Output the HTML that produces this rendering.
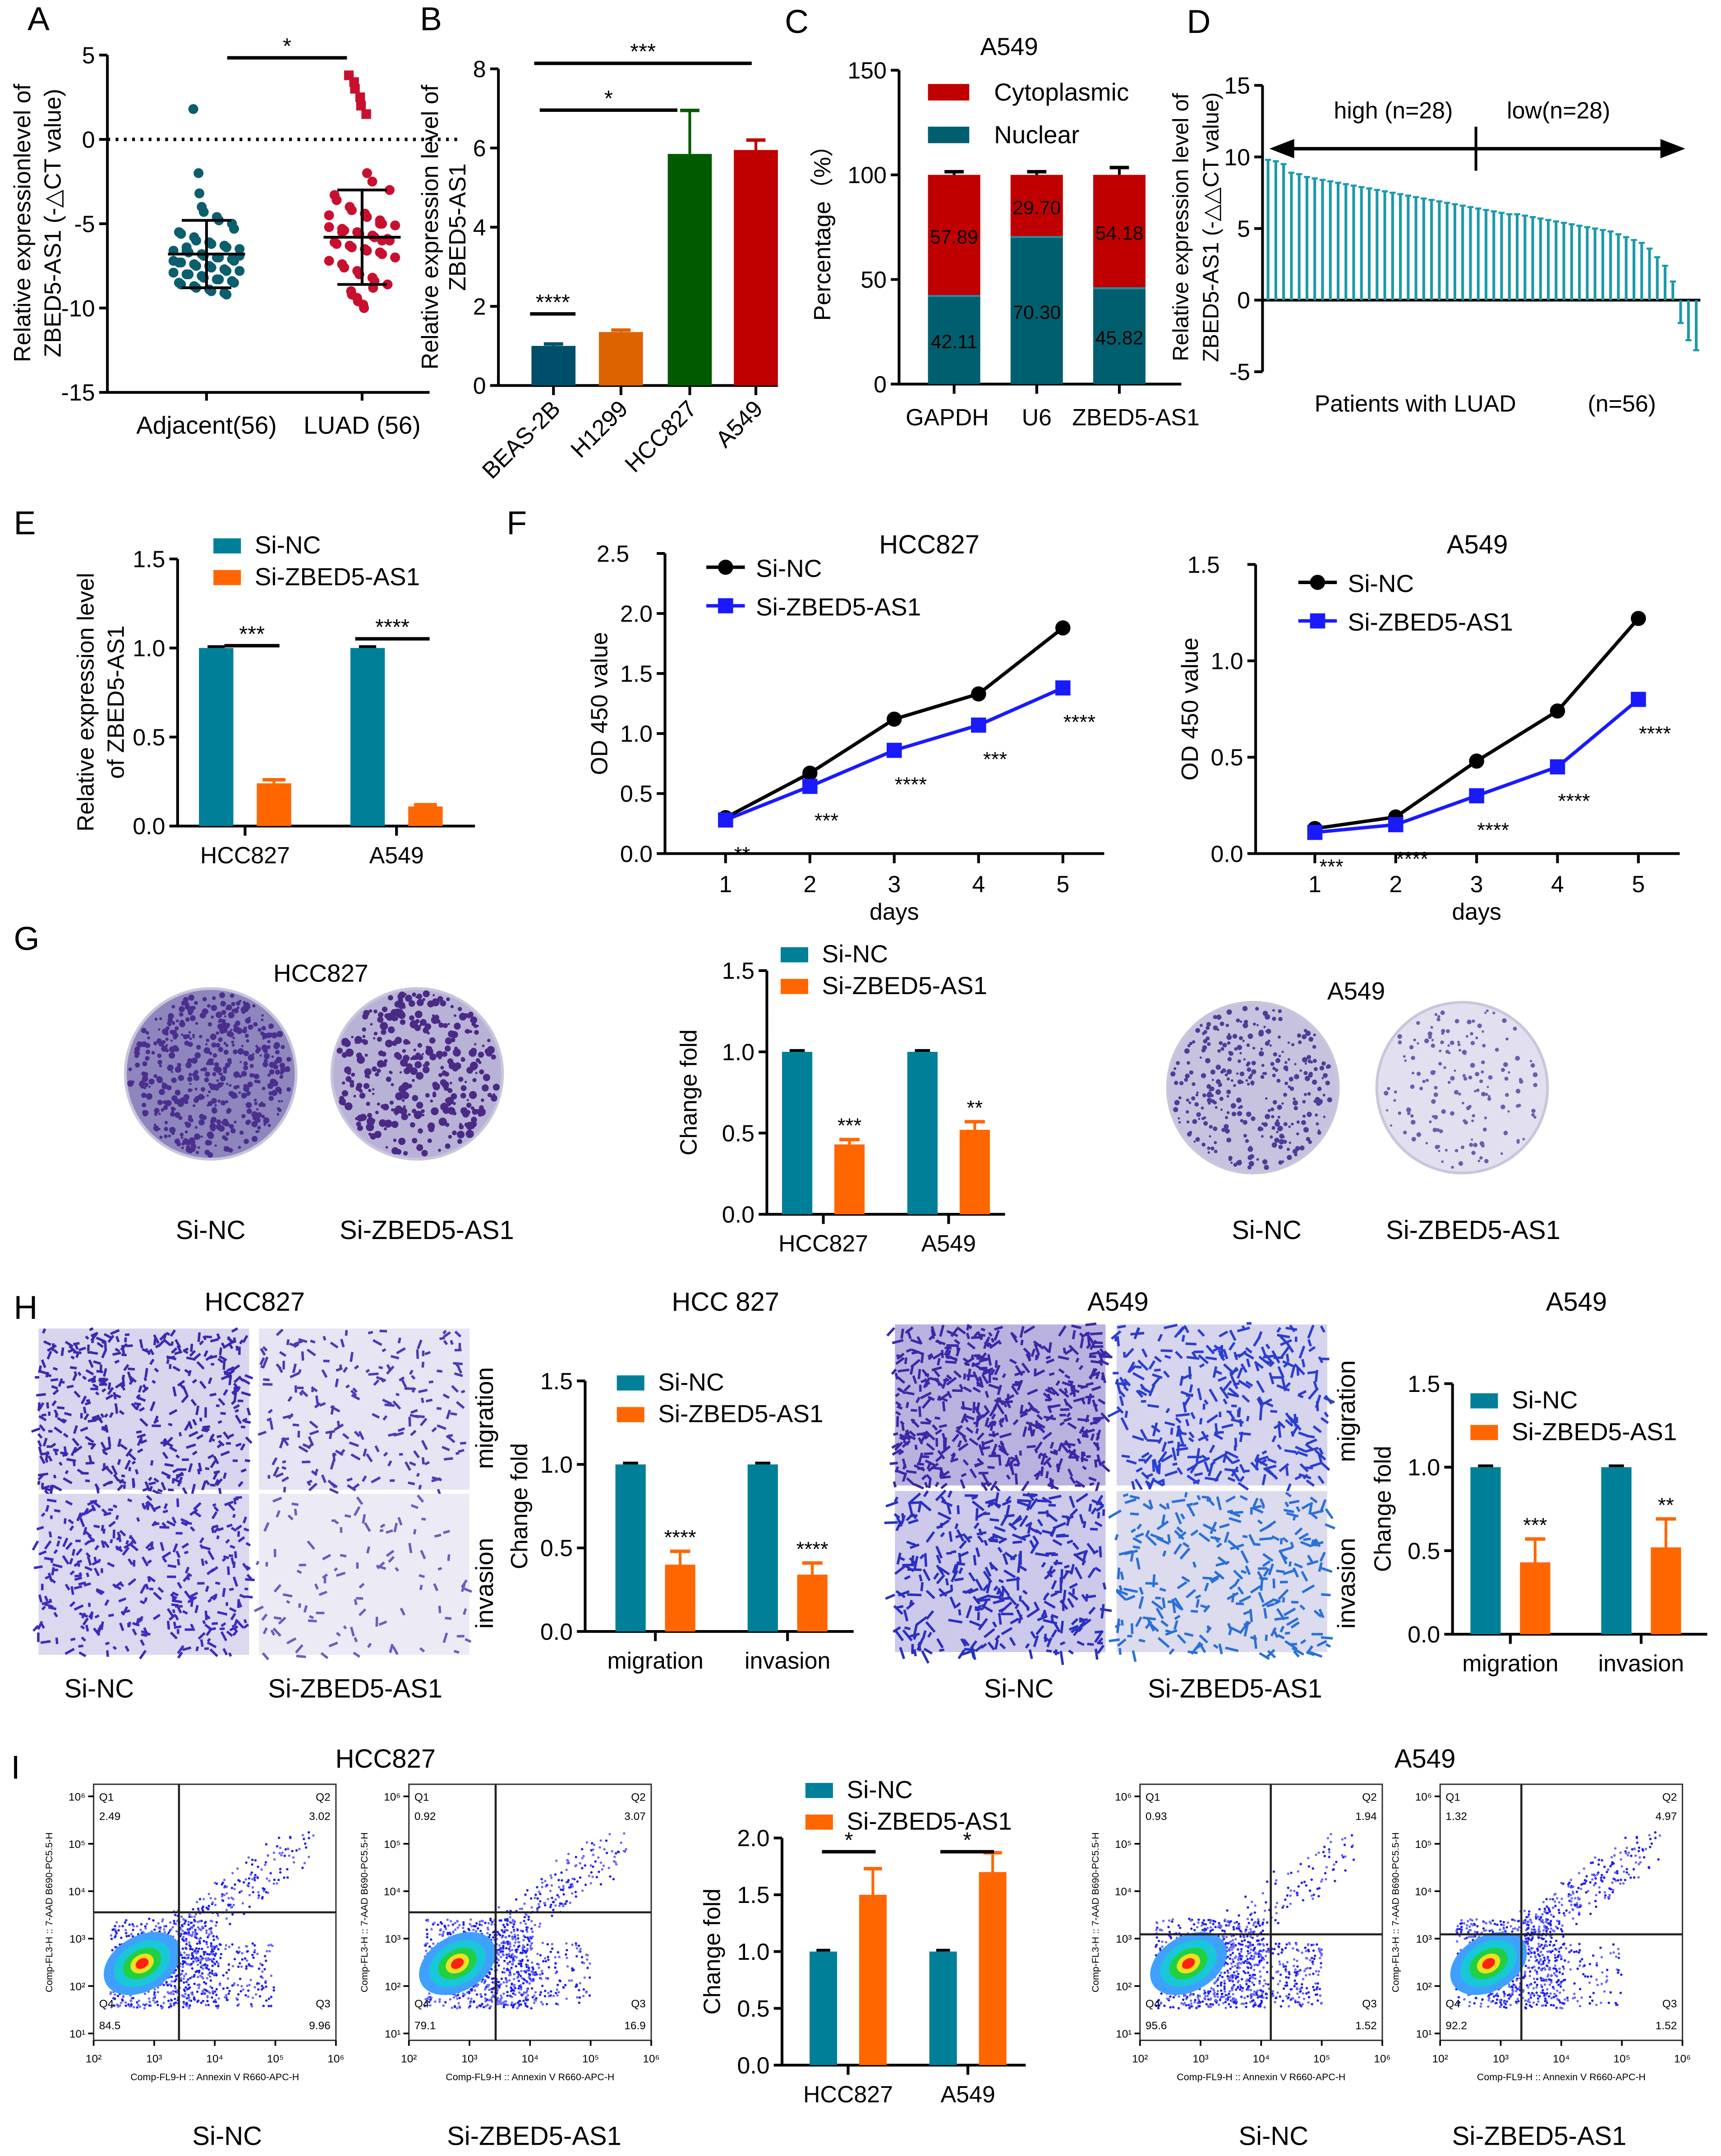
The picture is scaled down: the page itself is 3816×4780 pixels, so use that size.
<!DOCTYPE html>
<html><head><meta charset="utf-8">
<style>
html,body{margin:0;padding:0;background:#fff}
svg{display:block}
text{font-family:"Liberation Sans",Arial,sans-serif;fill:#000}
</style></head>
<body>
<svg id="fig" xmlns="http://www.w3.org/2000/svg" width="3816" height="4780" viewBox="0 0 1250 1566" preserveAspectRatio="none">
<rect width="1250" height="1566" fill="#fff"/>
</svg>
<script>
// ---------- DATA ----------
const aAdjacent=[1.8,-2.0,-3.2,-4.0,-4.3,-4.6,-4.8,-5.0,-5.3,-5.5,-5.6,-5.8,-6.0,-6.1,-6.2,-6.3,-6.4,-6.5,-6.6,-6.6,-6.7,-6.8,-6.9,-7.0,-7.0,-7.1,-7.2,-7.3,-7.3,-7.4,-7.5,-7.5,-7.6,-7.7,-7.8,-7.8,-7.9,-8.0,-8.0,-8.1,-8.2,-8.3,-8.3,-8.4,-8.5,-8.5,-8.6,-8.7,-8.8,-8.9,-9.0,-9.1,-9.2,-6.9,-7.2,-6.4];
const aLUAD=[3.8,3.4,3.0,2.5,2.0,1.5,-2.0,-2.5,-3.0,-3.3,-3.6,-4.0,-4.2,-4.4,-4.6,-4.8,-5.0,-5.1,-5.2,-5.3,-5.4,-5.5,-5.6,-5.7,-5.8,-5.9,-6.0,-6.1,-6.2,-6.3,-6.4,-6.5,-6.6,-6.7,-6.8,-7.0,-7.2,-7.4,-7.6,-7.8,-8.0,-8.2,-8.4,-8.6,-8.8,-9.0,-9.2,-9.4,-9.6,-9.8,-10.0,-5.0,-6.0,-7.0,-4.5,-5.5];
const aMeans=[-6.8,-5.8], aSD=[2.0,2.8];
const bCats=["BEAS-2B","H1299","HCC827","A549"], bVals=[1.0,1.35,5.85,5.95], bErr=[0.05,0.05,1.1,0.25];
const cCats=["GAPDH","U6","ZBED5-AS1"], cNuclear=[42.11,70.30,45.82], cCyto=[57.89,29.70,54.18];
const dVals=[9.8,9.7,9.5,8.9,8.8,8.6,8.5,8.4,8.3,8.2,8.1,8.0,7.9,7.8,7.7,7.6,7.5,7.4,7.3,7.2,7.1,7.0,6.9,6.8,6.7,6.6,6.5,6.4,6.3,6.2,6.1,6.0,6.0,5.9,5.8,5.7,5.6,5.5,5.4,5.3,5.2,5.1,5.0,4.9,4.8,4.6,4.4,4.2,4.0,3.6,3.0,2.4,1.3,-1.6,-2.8,-3.5];
const eCats=["HCC827","A549"], eNC=[1.0,1.0], eSi=[0.24,0.11];
const days=[1,2,3,4,5];
const fHccNC=[0.30,0.67,1.12,1.33,1.88], fHccSi=[0.28,0.56,0.86,1.07,1.38], fHccStars=["**","***","****","***","****"];
const fA549NC=[0.13,0.19,0.48,0.74,1.22], fA549Si=[0.11,0.15,0.30,0.45,0.80], fA549Stars=["***","****","****","****","****"];
const gCats=["HCC827","A549"], gNC=[1,1], gSi=[0.43,0.52], gSiErr=[0.03,0.05], gStars=["***","**"];
const hCats=["migration","invasion"], hHccNC=[1,1], hHccSi=[0.40,0.34], hHccErr=[0.08,0.07], hHccStars=["****","****"];
const hA549NC=[1,1], hA549Si=[0.43,0.52], hA549Err=[0.14,0.17], hA549Stars=["***","**"];
const iCats=["HCC827","A549"], iNC=[1,1], iSi=[1.50,1.70], iSiErr=[0.23,0.17];

// ---------- HELPERS ----------
const NS="http://www.w3.org/2000/svg";
const svg=document.getElementById('fig');
function mk(tag,attrs,name,parent){
  const el=document.createElementNS(NS,tag);
  for(const k in attrs) el.setAttribute(k,attrs[k]);
  
  
  (parent||svg).appendChild(el);
  return el;
}
function txt(x,y,s,size,name,opt){
  opt=opt||{};
  const a={x:x,y:y,'font-size':size,'text-anchor':opt.anchor||'middle'};
  if(opt.rot!==undefined) a.transform='rotate('+opt.rot+' '+x+' '+y+')';
  const t=mk('text',a,name,opt.parent);
  t.textContent=s; return t;
}
function line(x1,y1,x2,y2,name,w,col,dash){
  const a={x1:x1,y1:y1,x2:x2,y2:y2,stroke:col||'#000','stroke-width':w||2};
  if(dash) a['stroke-dasharray']=dash;
  return mk('line',a,name);
}
function scale(v,d0,d1,r0,r1){return r0+(v-d0)*(r1-r0)/(d1-d0);}
function yAxis(x,yT,yB,lo,hi,ticks,labels,name,fs,off,topOff){
  line(x,yT,x,yB,name+'-y-axis',2);
  ticks.forEach((t,i)=>{const y=scale(t,lo,hi,yB,yT);
    line(x-6,y,x,y,name+'-y-tick',2);
    const o=(topOff&&t===hi)?topOff:(off||9);
    txt(x-o,y+6,labels[i],fs||17,name+'-y-tick-label',{anchor:'end'});});
}
function rect(x,y,w,h,fill,name){return mk('rect',{x:x,y:y,width:w,height:h,fill:fill},name);}
function errBar(cx,yTop,yErr,col,name,cap){line(cx,yTop,cx,yErr,name,2,col);line(cx-(cap||7),yErr,cx+(cap||7),yErr,name+'-cap',2.5,col);}
function legendBox(x,y,col,label,name,fs){rect(x,y,20,11,col,name+'-swatch');txt(x+30,y+11,label,fs||18,name+'-label',{anchor:'start'});}
function sig(x1,x2,y,s,name){line(x1,y,x2,y,name+'-line',2.5);txt((x1+x2)/2,y-3,s,16,name+'-stars');}
const TEAL='#007f99', ORANGE='#ff6600';
let seed=12345; function rnd(){seed=(seed*1103515245+12345)%2147483648;return seed/2147483648;}

[['A',20,22],['B',305,22],['C',570,24],['D',862,24],['E',10,388],['F',368,388],['G',10,690],['H',10,958],['I',8,1292]].forEach(p=>txt(p[1],p[2],p[0],24,'panel-label-'+p[0].toLowerCase(),{anchor:'start'}));

// ---------- A ----------
(function(){
  const X=78,yT=40,yB=285,lo=-15,hi=5;
  const ys=v=>scale(v,lo,hi,yB,yT);
  yAxis(X,yT,yB,lo,hi,[5,0,-5,-10,-15],['5','0','-5','-10','-15'],'a');
  line(X,yB,312,yB,'a-x-axis',2);
  line(X,ys(0),335,ys(0),'a-zero-line',2.5,'#000','2,4');
  const cx=[150,263], cols=['#0b5e6e','#c8102e'];
  [aAdjacent,aLUAD].forEach((arr,g)=>{
    line(cx[g],yB,cx[g],yB+6,'a-x-tick',2);
    arr.forEach((v,i)=>{
      const off=((i%9)-4)*5.5+((i%2)?2:-2);
      const x=cx[g]+off*(Math.abs(v-aMeans[g])<3?1:0.4);
      if(g===1 && v>1) mk('rect',{x:x-3.5,y:ys(v)-3.5,width:7,height:7,fill:cols[g]},'a-point-luad');
      else mk('circle',{cx:x,cy:ys(v),r:3.6,fill:cols[g]},g?'a-point-luad':'a-point-adjacent');
    });
    line(cx[g]-28,ys(aMeans[g]),cx[g]+28,ys(aMeans[g]),'a-mean-line',2);
    line(cx[g],ys(aMeans[g]-aSD[g]),cx[g],ys(aMeans[g]+aSD[g]),'a-sd',2);
    line(cx[g]-18,ys(aMeans[g]+aSD[g]),cx[g]+18,ys(aMeans[g]+aSD[g]),'a-sd-cap',2);
    line(cx[g]-18,ys(aMeans[g]-aSD[g]),cx[g]+18,ys(aMeans[g]-aSD[g]),'a-sd-cap',2);
  });
  txt(150,315,'Adjacent(56)',18,'a-x-label-adjacent');
  txt(263,315,'LUAD (56)',18,'a-x-label-luad');
  sig(165,252,42,'*','a-sig');
  txt(22,162,'Relative expressionlevel of',17,'a-y-title',{rot:-90});
  txt(44,162,'ZBED5-AS1 (-△CT value)',17,'a-y-title-2',{rot:-90});
})();

// ---------- B ----------
(function(){
  const X=362,yT=50,yB=280,lo=0,hi=8,cols=['#004f6a','#dd6300','#005a00','#c00000'];
  const ys=v=>scale(v,lo,hi,yB,yT);
  yAxis(X,yT,yB,lo,hi,[0,2,4,6,8],['0','2','4','6','8'],'b');
  line(X,yB,565,yB,'b-x-axis',2);
  const cx=[402,451,501,549];
  bCats.forEach((c,i)=>{
    rect(cx[i]-16,ys(bVals[i]),32,yB-ys(bVals[i]),cols[i],'b-bar-'+c.toLowerCase());
    errBar(cx[i],ys(bVals[i]),ys(bVals[i]+bErr[i]),cols[i],'b-error');
    line(cx[i],yB,cx[i],yB+7,'b-x-tick',2);
    txt(cx[i]+6,yB+18,c,17,'b-x-label',{anchor:'end',rot:-45});
  });
  sig(385,418,228,'****','b-sig-1');
  sig(392,492,80,'*','b-sig-2');
  sig(388,546,46,'***','b-sig-3');
  txt(318,165,'Relative  expression level of',17,'b-y-title',{rot:-90});
  txt(338,165,'ZBED5-AS1',17,'b-y-title-2',{rot:-90});
})();

// ---------- C ----------
(function(){
  const X=653,yT=51,yB=279,lo=0,hi=150;
  const ys=v=>scale(v,lo,hi,yB,yT);
  yAxis(X,yT,yB,lo,hi,[0,50,100,150],['0','50','100','150'],'c',17,9);
  line(X,yB,858,yB,'c-x-axis',2);
  const cx=[693,753,813];
  cCats.forEach((c,i)=>{
    const n=cNuclear[i], t=n+cCyto[i];
    rect(cx[i]-19,ys(n),38,yB-ys(n),'#005f6e','c-bar-nuclear-'+c.toLowerCase());
    rect(cx[i]-19,ys(t),38,ys(n)-ys(t),'#c00000','c-bar-cytoplasmic-'+c.toLowerCase());
    line(cx[i]-19,ys(n),cx[i]+19,ys(n),'c-divider',1.5,'#2a8a9a');
    errBar(cx[i],ys(t),ys(t+(i===2?3.5:1.5)),'#000','c-error');
    txt(cx[i],ys(n/2)+6,n.toFixed(2),14,'c-value-nuclear');
    txt(cx[i],ys(n+cCyto[i]/2)+6,cCyto[i].toFixed(2),14,'c-value-cyto');
    line(cx[i],yB,cx[i],yB+7,'c-x-tick',2);
  });
  txt(688,309,'GAPDH',17,'c-x-label-gapdh');
  txt(753,309,'U6',17,'c-x-label-u6');
  txt(825,309,'ZBED5-AS1',17,'c-x-label-zbed5');
  txt(733,40,'A549',18,'c-title');
  rect(674,61,30,12,'#c00000','c-legend-cyto-swatch');txt(722,73,'Cytoplasmic',18,'c-legend-cyto',{anchor:'start'});
  rect(674,92,30,12,'#005f6e','c-legend-nuclear-swatch');txt(722,104,'Nuclear',18,'c-legend-nuclear',{anchor:'start'});
  txt(603,165,'Percentage（%）',17,'c-y-title',{rot:-90});
})();

// ---------- D ----------
(function(){
  const X=917,yT=62,yB=270,lo=-5,hi=15;
  const ys=v=>scale(v,lo,hi,yB,yT);
  yAxis(X,yT,yB,lo,hi,[15,10,5,0,-5],['15','10','5','0','-5'],'d');
  line(X,ys(0),1235,ys(0),'d-zero-axis',2);
  const step=(1232-921)/(dVals.length-1);
  dVals.forEach((v,i)=>{
    const x=921+i*step, y0=ys(0), y1=ys(v);
    rect(x-1,Math.min(y0,y1),2,Math.abs(y1-y0),'#1a9aaa','d-bar-patient');
    line(x-2.2,y1,x+2.2,y1,'d-bar-cap',1.5,'#1a9aaa');
  });
  line(928,108,1218,108,'d-arrow-line',2.5);
  mk('polygon',{points:'922,108 940,101 940,115',fill:'#000'},'d-arrow-left');
  mk('polygon',{points:'1224,108 1206,101 1206,115',fill:'#000'},'d-arrow-right');
  line(1072,92,1072,124,'d-divider',2);
  txt(1012,86,'high  (n=28)',17,'d-high-label');
  txt(1132,86,'low(n=28)',17,'d-low-label');
  txt(1028,299,'Patients with LUAD',17,'d-x-title');
  txt(1178,299,'(n=56)',17,'d-n-label');
  txt(863,165,'Relative  expression level of',16,'d-y-title',{rot:-90});
  txt(885,165,'ZBED5-AS1 (-△△CT value)',16,'d-y-title-2',{rot:-90});
})();

// ---------- generic grouped bar ----------
function grouped(o){
  const ys=v=>scale(v,0,o.hi,o.yB,o.yT);
  yAxis(o.X,o.yT,o.yB,0,o.hi,o.ticks,o.tickLabels,o.n,17);
  line(o.X,o.yB,o.xEnd,o.yB,o.n+'-x-axis',2);
  o.cats.forEach((c,i)=>{
    const a=o.cx[i]-o.gap, b=o.cx[i]+o.gap;
    rect(a-o.w/2,ys(o.nc[i]),o.w,o.yB-ys(o.nc[i]),TEAL,o.n+'-bar-sinc-'+c.toLowerCase());
    line(a-o.w/4,ys(o.nc[i])-1,a+o.w/4,ys(o.nc[i])-1,o.n+'-error-sinc',2);
    rect(b-o.w/2,ys(o.si[i]),o.w,o.yB-ys(o.si[i]),ORANGE,o.n+'-bar-si-'+c.toLowerCase());
    errBar(b,ys(o.si[i]),ys(o.si[i]+o.err[i]),ORANGE,o.n+'-error-si',o.w/3);
    if(o.stars) txt(b,ys(o.si[i]+o.err[i])-5,o.stars[i],15,o.n+'-stars');
    line(o.cx[i],o.yB,o.cx[i],o.yB+7,o.n+'-x-tick',2);
    txt(o.cx[i],o.yB+27,c,17,o.n+'-x-label');
  });
  legendBox(o.lx,o.ly,TEAL,'Si-NC',o.n+'-legend-sinc');
  legendBox(o.lx,o.ly+23,ORANGE,'Si-ZBED5-AS1',o.n+'-legend-si');
  txt(o.tx,(o.yT+o.yB)/2,o.title,17,o.n+'-y-title',{rot:-90});
}

// ---------- E ----------
(function(){
  grouped({n:'e',X:129,yT:406,yB:600,hi:1.5,ticks:[0,0.5,1,1.5],tickLabels:['0.0','0.5','1.0','1.5'],xEnd:345,
    cats:eCats,cx:[178,288],gap:21,w:25,nc:eNC,si:eSi,err:[0.02,0.01],lx:155,ly:391,tx:70,title:''});
  txt(68,510,'Relative expression level',17,'e-y-title-1',{rot:-90});
  txt(90,510,'of ZBED5-AS1',17,'e-y-title-2',{rot:-90});
  sig(163,203,469,'***','e-sig-hcc827');
  sig(258,312,464,'****','e-sig-a549');
})();

// ---------- F ----------
function linePlot(o){
  const ys=v=>scale(v,0,o.hi,o.yB,o.yT);
  const xs=d=>scale(d,1,5,o.x1,o.x5);
  yAxis(o.X,o.yT,o.yB,0,o.hi,o.ticks,o.tickLabels,o.n,17,9,26);
  line(o.X,o.yB,o.x5+30,o.yB,o.n+'-x-axis',2);
  days.forEach(d=>{line(xs(d),o.yB,xs(d),o.yB+7,o.n+'-x-tick',2);txt(xs(d),o.yB+28,String(d),17,o.n+'-x-label');});
  [[o.nc,'#000','sinc'],[o.si,'#1a1aff','si']].forEach(s=>{
    mk('polyline',{points:days.map((d,i)=>xs(d)+','+ys(s[0][i])).join(' '),fill:'none',stroke:s[1],'stroke-width':2.5},o.n+'-line-'+s[2]);
    days.forEach((d,i)=>{
      if(s[2]==='sinc') mk('circle',{cx:xs(d),cy:ys(s[0][i]),r:5.5,fill:s[1]},o.n+'-point-sinc');
      else mk('rect',{x:xs(d)-5.5,y:ys(s[0][i])-5.5,width:11,height:11,fill:s[1]},o.n+'-point-si');
    });
  });
  days.forEach((d,i)=>txt(xs(d)+12,ys(o.si[i])+30,o.stars[i],15,o.n+'-stars'));
  line(o.lx,o.ly,o.lx+28,o.ly,o.n+'-legend-sinc-line',2.5);
  mk('circle',{cx:o.lx+14,cy:o.ly,r:5.5,fill:'#000'},o.n+'-legend-sinc-marker');
  txt(o.lx+36,o.ly+7,'Si-NC',18,o.n+'-legend-sinc-label',{anchor:'start'});
  line(o.lx,o.ly+28,o.lx+28,o.ly+28,o.n+'-legend-si-line',2.5,'#1a1aff');
  mk('rect',{x:o.lx+8.5,y:o.ly+22.5,width:11,height:11,fill:'#1a1aff'},o.n+'-legend-si-marker');
  txt(o.lx+36,o.ly+35,'Si-ZBED5-AS1',18,o.n+'-legend-si-label',{anchor:'start'});
  txt(o.title[1],o.title[2],o.title[0],19,o.n+'-title');
  txt(o.tx,(o.yT+o.yB)/2,'OD 450 value',17,o.n+'-y-title',{rot:-90});
  txt((o.x1+o.x5)/2,o.yB+48,'days',17,o.n+'-x-title');
}
linePlot({n:'f-hcc827',X:483,yT:402,yB:620,hi:2.5,ticks:[0,0.5,1,1.5,2,2.5],tickLabels:['0.0','0.5','1.0','1.5','2.0','2.5'],
  x1:527,x5:772,nc:fHccNC,si:fHccSi,stars:fHccStars,lx:513,ly:412,title:['HCC827',675,402],tx:441});
linePlot({n:'f-a549',X:912,yT:410,yB:620,hi:1.5,ticks:[0,0.5,1,1.5],tickLabels:['0.0','0.5','1.0','1.5'],
  x1:955,x5:1190,nc:fA549NC,si:fA549Si,stars:fA549Stars,lx:943,ly:423,title:['A549',1073,402],tx:870});

// ---------- G ----------
function dish(cx,cy,r,base,dot,n,name,dens){
  mk('circle',{cx:cx,cy:cy,r:r,fill:base,stroke:'#c9c6dc','stroke-width':2},name);
  for(let i=0;i<n;i++){
    const a=rnd()*6.283, d=Math.sqrt(rnd())*(r-3);
    mk('circle',{cx:cx+Math.cos(a)*d,cy:cy+Math.sin(a)*d,r:0.8+rnd()*dens,fill:dot},name+'-colony');
  }
}
dish(153,780,62,'#8f86bd','#4a2f8f',500,'g-dish-hcc827-sinc',1.6);
dish(303,780,62,'#b8b3d6','#4b2a86',350,'g-dish-hcc827-si',2.2);
dish(910,790,62,'#c7c3de','#4d3d99',320,'g-dish-a549-sinc',1.2);
dish(1062,790,62,'#e2e0ef','#6a5eb0',160,'g-dish-a549-si',1.0);
txt(233,713,'HCC827',18,'g-title-hcc827');
txt(985,726,'A549',18,'g-title-a549');
txt(153,900,'Si-NC',19,'g-label-sinc-1');txt(310,900,'Si-ZBED5-AS1',19,'g-label-si-1');
txt(920,900,'Si-NC',19,'g-label-sinc-2');txt(1070,900,'Si-ZBED5-AS1',19,'g-label-si-2');
grouped({n:'g-chart',X:557,yT:705,yB:882,hi:1.5,ticks:[0,0.5,1,1.5],tickLabels:['0.0','0.5','1.0','1.5'],xEnd:730,
  cats:gCats,cx:[598,689],gap:19,w:22,nc:gNC,si:gSi,err:gSiErr,stars:gStars,lx:567,ly:688,tx:506,title:'Change fold'});

// ---------- H ----------
function micro(x,y,w,h,bg,dot,n,name,len){
  rect(x,y,w,h,bg,name);
  for(let i=0;i<n;i++){
    const px=x+rnd()*w, py=y+rnd()*h, a=rnd()*180;
    mk('rect',{x:px,y:py,width:len*(0.5+rnd()),height:1.8,fill:dot,transform:'rotate('+a+' '+px+' '+py+')'},name+'-cell');
  }
}
micro(28,965,153,117,'#d9d5ee','#3a2ab0',420,'h-img-hcc-sinc-migration',5);
micro(188,965,153,117,'#e7e4f4','#4a3cb5',200,'h-img-hcc-si-migration',5);
micro(28,1085,153,117,'#dcd8ef','#3c2cc0',340,'h-img-hcc-sinc-invasion',5);
micro(188,1085,153,117,'#ecebf5','#6a5ec0',100,'h-img-hcc-si-invasion',5);
micro(650,962,153,117,'#b9b2de','#3a28a8',500,'h-img-a549-sinc-migration',6);
micro(811,962,153,117,'#d7d4ee','#2a3fd0',320,'h-img-a549-si-migration',7);
micro(650,1083,153,117,'#cdc9ea','#2a30c0',360,'h-img-a549-sinc-invasion',7);
micro(811,1083,153,117,'#dcdcee','#2a70d8',260,'h-img-a549-si-invasion',7);
txt(185,952,'HCC827',19,'h-title-hcc827');txt(527,952,'HCC 827',19,'h-title-hcc827-chart');
txt(812,952,'A549',19,'h-title-a549');txt(1145,952,'A549',19,'h-title-a549-chart');
txt(358,1030,'migration',18,'h-label-migration-1',{rot:-90});txt(358,1150,'invasion',18,'h-label-invasion-1',{rot:-90});
txt(984,1025,'migration',18,'h-label-migration-2',{rot:-90});txt(984,1150,'invasion',18,'h-label-invasion-2',{rot:-90});
txt(72,1233,'Si-NC',19,'h-label-sinc-1');txt(258,1233,'Si-ZBED5-AS1',19,'h-label-si-1');
txt(740,1233,'Si-NC',19,'h-label-sinc-2');txt(897,1233,'Si-ZBED5-AS1',19,'h-label-si-2');
grouped({n:'h-hcc-chart',X:425,yT:1003,yB:1185,hi:1.5,ticks:[0,0.5,1,1.5],tickLabels:['0.0','0.5','1.0','1.5'],xEnd:620,
  cats:hCats,cx:[476,572],gap:18,w:22,nc:hHccNC,si:hHccSi,err:hHccErr,stars:hHccStars,lx:448,ly:999,tx:383,title:'Change fold'});
grouped({n:'h-a549-chart',X:1055,yT:1005,yB:1187,hi:1.5,ticks:[0,0.5,1,1.5],tickLabels:['0.0','0.5','1.0','1.5'],xEnd:1240,
  cats:hCats,cx:[1097,1192],gap:18,w:22,nc:hA549NC,si:hA549Si,err:hA549Err,stars:hA549Stars,lx:1068,ly:1012,tx:1010,title:'Change fold'});

// ---------- I ----------
function flow(x,y,w,h,qx,qy,q,name,upper){
  rect(x,y,w,h,'#fff',name);
  const g=mk('g',{},name+'-events');
  const cx=x+w*0.2, cy=y+h*0.7;
  for(let i=0;i<1100;i++){
    const r1=rnd(),r2=rnd();
    let px,py;
    if(i<550){px=cx+(r1-0.3)*w*0.45;py=cy+(r2-0.5)*h*0.35;}
    else if(i<550+upper){const t=rnd();px=cx+t*w*0.65+(r1-0.5)*24;py=cy-t*h*0.45+(r2-0.5)*28;}
    else {px=cx+(r1)*w*0.55;py=cy-15+(r2)*h*0.25;}
    if(px>x+2&&px<x+w-2&&py>y+2&&py<y+h-2) mk('circle',{cx:px,cy:py,r:0.9,fill:rnd()<0.5?'#2020f0':'#6a6af8'},name+'-event',g);
  }
  [['#3fa0ff',30,20],['#18c8d8',22,15],['#20d040',15,10],['#f0e020',9,6.5],['#ff2010',5,3.5]].forEach(e=>
    mk('ellipse',{cx:cx,cy:cy,rx:e[1],ry:e[2],fill:e[0],transform:'rotate(-30 '+cx+' '+cy+')'},name+'-density'));
  rect(x,y,w,h,'none',name+'-frame').setAttribute('stroke','#333');
  line(qx,y,qx,y+h,name+'-gate-x',1.5,'#222');line(x,qy,x+w,qy,name+'-gate-y',1.5,'#222');
  const f=8;
  txt(x+4,y+12,'Q1',f,name+'-q1',{anchor:'start'});txt(x+4,y+26,q[0],f,name+'-q1-val',{anchor:'start'});
  txt(x+w-4,y+12,'Q2',f,name+'-q2',{anchor:'end'});txt(x+w-4,y+26,q[1],f,name+'-q2-val',{anchor:'end'});
  txt(x+4,y+h-24,'Q4',f,name+'-q4',{anchor:'start'});txt(x+4,y+h-8,q[3],f,name+'-q4-val',{anchor:'start'});
  txt(x+w-4,y+h-24,'Q3',f,name+'-q3',{anchor:'end'});txt(x+w-4,y+h-8,q[2],f,name+'-q3-val',{anchor:'end'});
  ['2','3','4','5','6'].forEach((p,i)=>{const xx=x+i*w/4;line(xx,y+h,xx,y+h+4,name+'-xtick',1.2);txt(xx,y+h+16,'10'+['²','³','⁴','⁵','⁶'][i],8,name+'-xtick-label');});
  ['1','2','3','4','5','6'].forEach((p,i)=>{const yy=y+h-i*h/5.4-5;line(x-4,yy,x,yy,name+'-ytick',1.2);txt(x-6,yy+3,'10'+['¹','²','³','⁴','⁵','⁶'][i],8,name+'-ytick-label',{anchor:'end'});});
  txt(x+w/2,y+h+29,'Comp-FL9-H :: Annexin V R660-APC-H',7,name+'-x-title');
  txt(x-30,y+h/2,'Comp-FL3-H :: 7-AAD B690-PC5.5-H',7,name+'-y-title',{rot:-90});
}
flow(68,1296,176,186,130,1389,['2.49','3.02','9.96','84.5'],'i-flow-hcc-sinc',260);
flow(297,1296,176,186,360,1389,['0.92','3.07','16.9','79.1'],'i-flow-hcc-si',260);
flow(828,1296,176,186,923,1405,['0.93','1.94','1.52','95.6'],'i-flow-a549-sinc',150);
flow(1046,1296,176,186,1105,1405,['1.32','4.97','1.52','92.2'],'i-flow-a549-si',350);
txt(280,1284,'HCC827',19,'i-title-hcc827');txt(1035,1284,'A549',19,'i-title-a549');
txt(165,1558,'Si-NC',19,'i-label-sinc-1');txt(388,1558,'Si-ZBED5-AS1',19,'i-label-si-1');
txt(925,1558,'Si-NC',19,'i-label-sinc-2');txt(1118,1558,'Si-ZBED5-AS1',19,'i-label-si-2');
grouped({n:'i-chart',X:568,yT:1335,yB:1500,hi:2,ticks:[0,0.5,1,1.5,2],tickLabels:['0.0','0.5','1.0','1.5','2.0'],xEnd:745,
  cats:iCats,cx:[616,703],gap:18,w:20,nc:iNC,si:iSi,err:iSiErr,lx:585,ly:1295,tx:523,title:'Change fold'});
sig(597,636,1345,'*','i-sig-hcc827');
sig(683,722,1345,'*','i-sig-a549');
</script>
</body></html>
